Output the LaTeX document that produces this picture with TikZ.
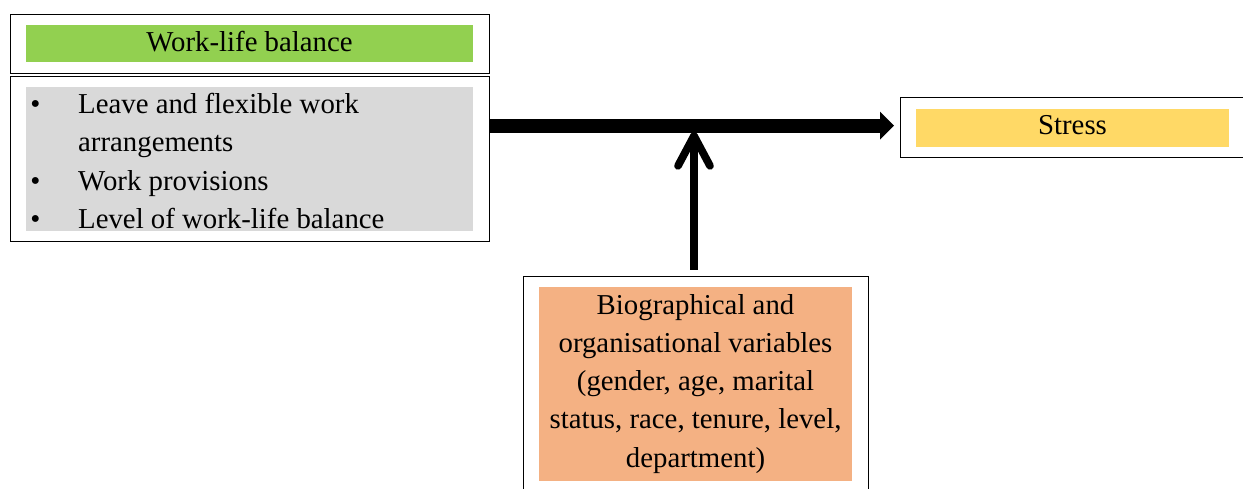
\documentclass[tikz,border=0pt]{standalone}
\usepackage{fontspec}
\setmainfont{Liberation Serif}
\usetikzlibrary{arrows.meta}
\definecolor{wlgreen}{HTML}{92D050}
\definecolor{wlgray}{HTML}{D9D9D9}
\definecolor{styellow}{HTML}{FFD966}
\definecolor{bioorange}{HTML}{F4B183}
\tikzset{
  outerbox/.style={draw=black, line width=1.4pt, inner sep=0pt, anchor=north west},
  fillbox/.style={inner sep=0pt, anchor=north west, draw=none},
  txt/.style={inner sep=0pt, font=\fontsize{28.8pt}{38.6pt}\selectfont},
}
\begin{document}
\begin{tikzpicture}[x=1pt,y=-1pt]
\useasboundingbox (0,0) rectangle (1243,489);
% Work-life balance header
\node[outerbox, minimum width=479pt, minimum height=59pt] (box1) at (10,14) {};
\node[fillbox, fill=wlgreen, minimum width=447pt, minimum height=37pt] (g1) at (26,25) {};
\node[txt, anchor=base] (t1) at (249.5,51.7) {Work-life balance};
% Work-life balance list
\node[outerbox, minimum width=479pt, minimum height=165pt] (box2) at (10,76) {};
\node[fillbox, fill=wlgray, minimum width=447pt, minimum height=144pt] (g2) at (26,87) {};
\node[txt, anchor=base] (b1) at (35.3,113.3) {•};
\node[txt, anchor=base west] (l1) at (78,113.3) {Leave and flexible work};
\node[txt, anchor=base west] (l2) at (78,151.8) {arrangements};
\node[txt, anchor=base] (b3) at (35.3,190.3) {•};
\node[txt, anchor=base west] (l3) at (78,190.3) {Work provisions};
\node[txt, anchor=base] (b4) at (35.3,228.8) {•};
\node[txt, anchor=base west] (l4) at (78,228.8) {Level of work-life balance};
% Stress
\node[outerbox, minimum width=346pt, minimum height=60pt] (sbox) at (900,97) {};
\node[fillbox, fill=styellow, minimum width=313pt, minimum height=38pt] (g3) at (916,109) {};
\node[txt, anchor=base] (st) at (1072.5,135) {Stress};
% Biographical
\node[outerbox, minimum width=345pt, minimum height=225pt] (bbox) at (523,276) {};
\node[fillbox, fill=bioorange, minimum width=313pt, minimum height=194pt] (g4) at (539,287) {};
\node[txt, anchor=base] (o1) at (695.5,314) {Biographical and};
\node[txt, anchor=base] (o2) at (695.5,352.3) {organisational variables};
\node[txt, anchor=base] (o3) at (695.5,390.6) {(gender, age, marital};
\node[txt, anchor=base] (o4) at (695.5,428.9) {status, race, tenure, level,};
\node[txt, anchor=base] (o5) at (695.5,467.2) {department)};
% connectors
\coordinate (jn) at (694,132);
\draw[line width=14pt, -{Triangle[length=14pt,width=28pt,line width=0pt]}, shorten >=6pt]
  ([yshift=2pt]box2.east |- sbox.west) -- ([yshift=2pt]sbox.west);
\draw[line width=7.7pt, -{Straight Barb[length=30pt,width=32pt,round]}, shorten <=6pt]
  (jn |- bbox.north) -- (jn);
\end{tikzpicture}
\end{document}
